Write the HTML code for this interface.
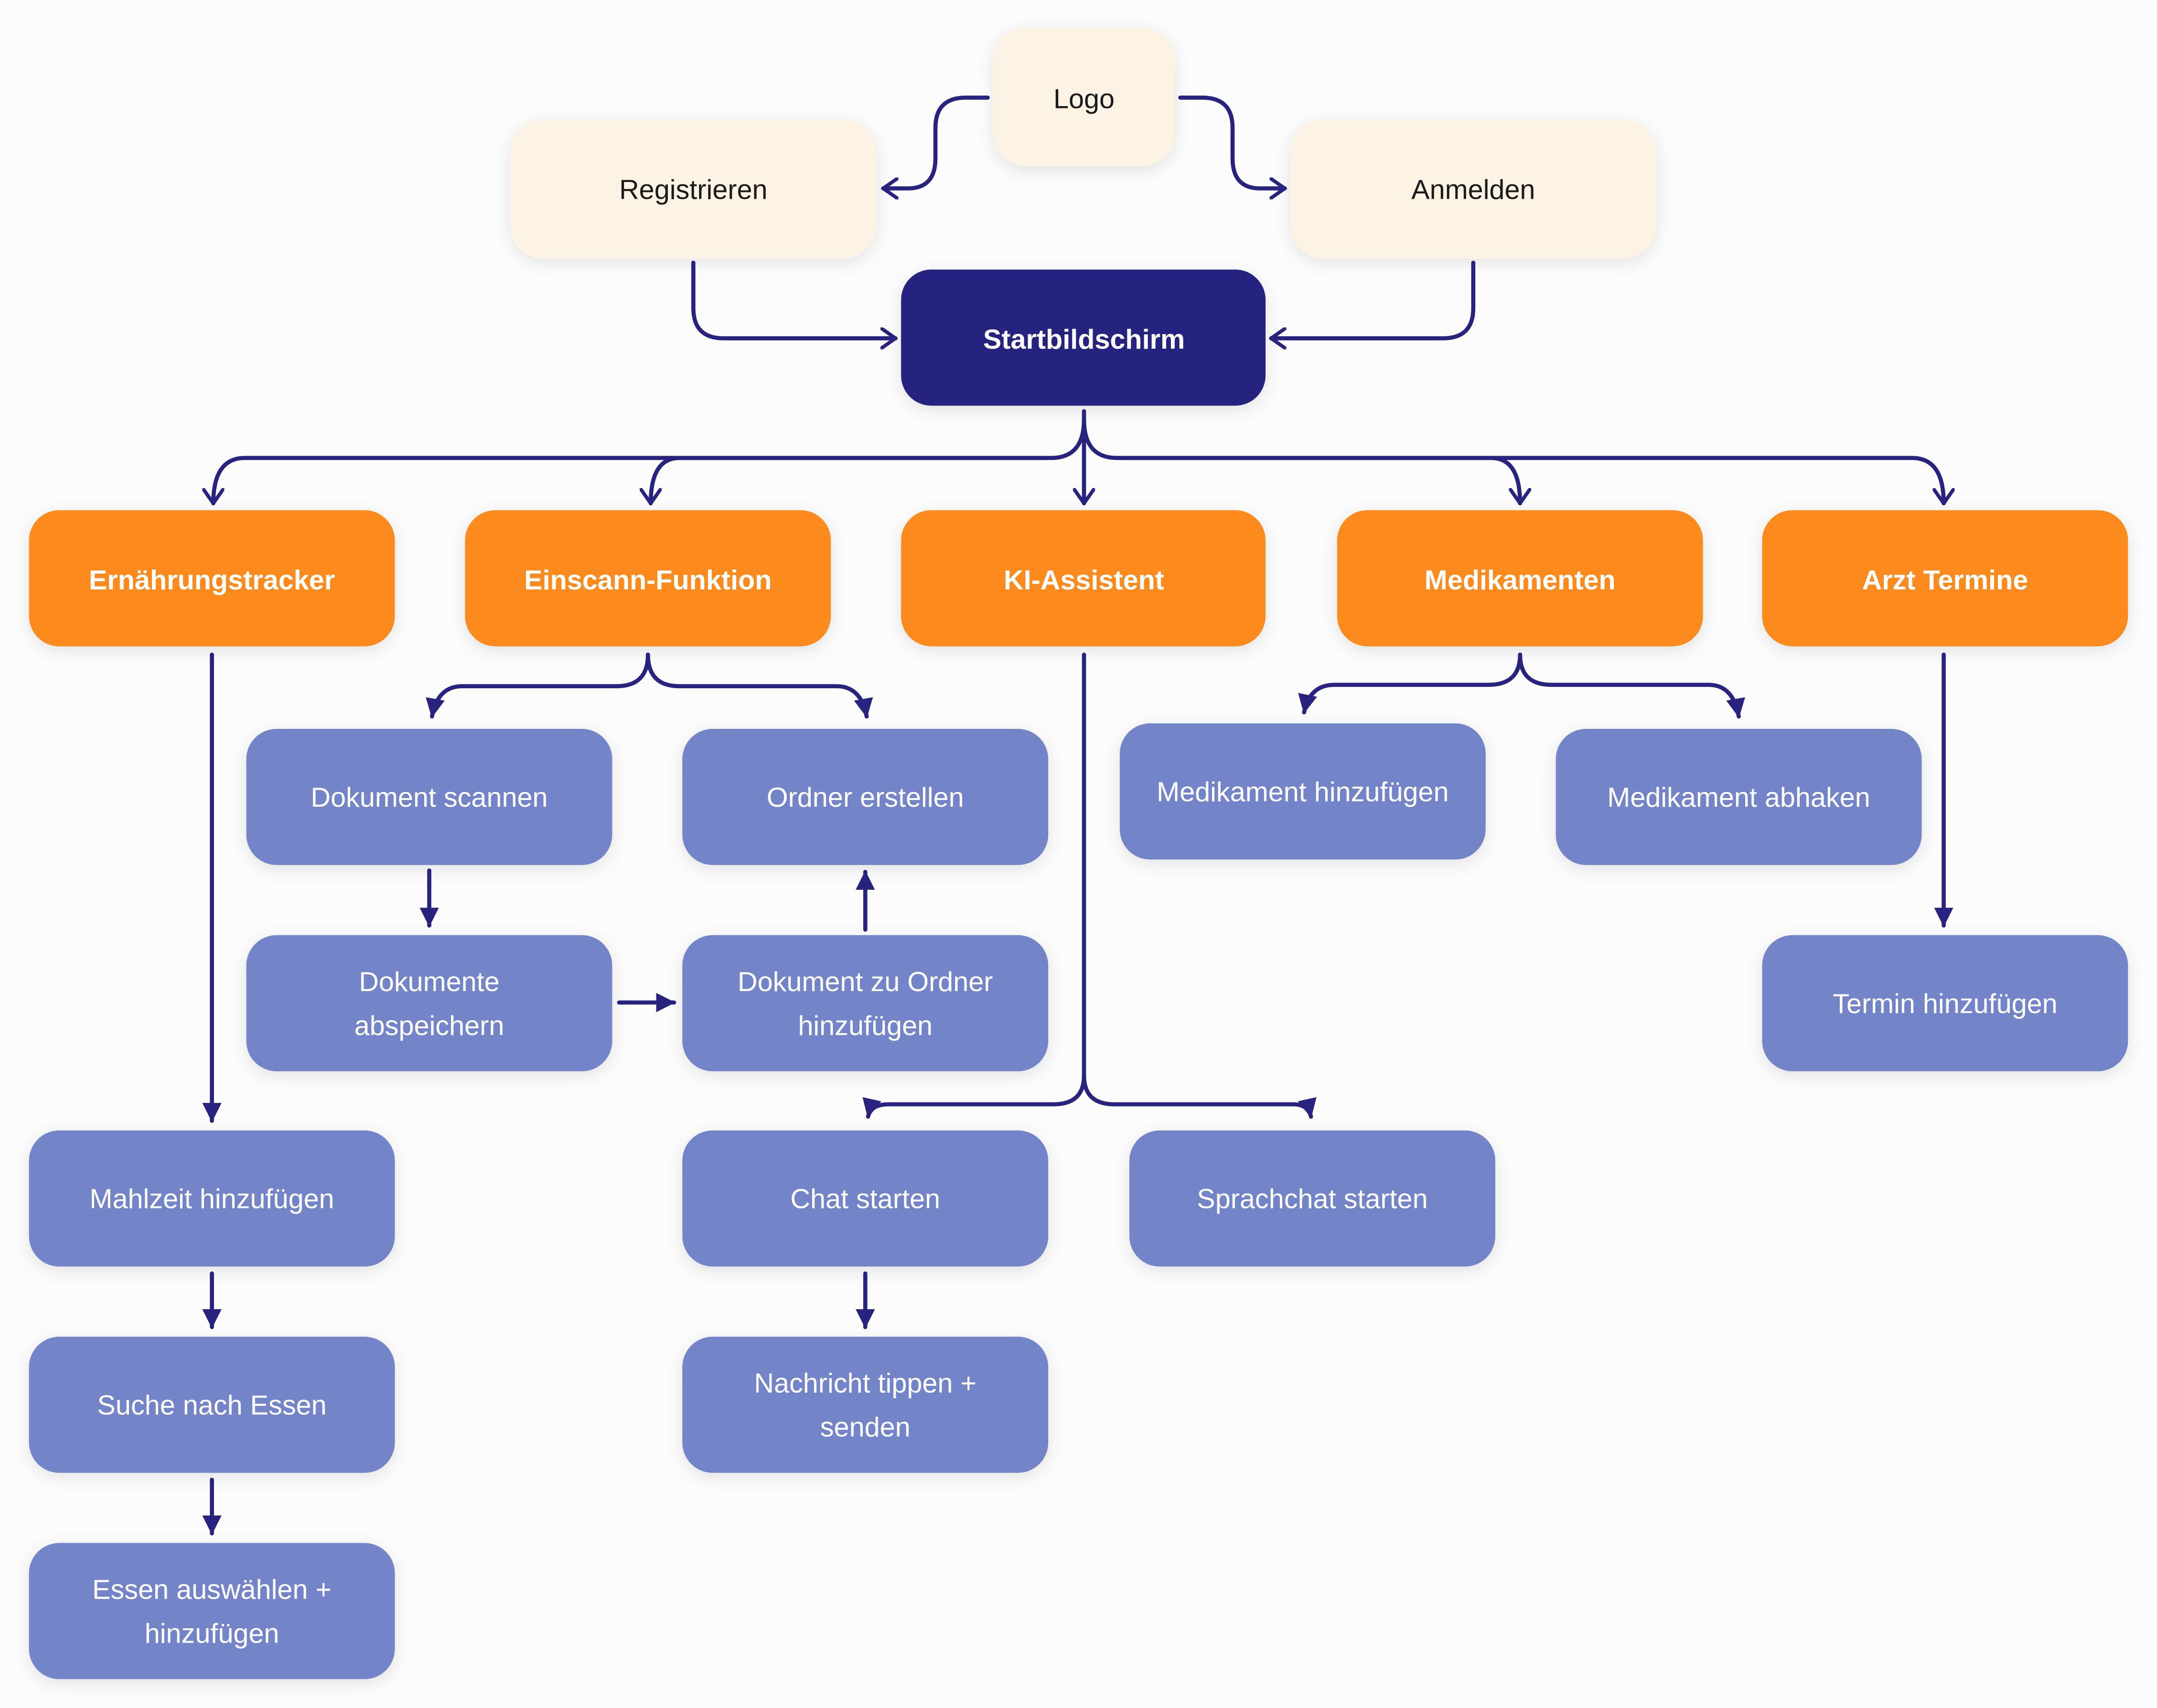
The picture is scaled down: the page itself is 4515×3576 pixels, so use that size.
<!DOCTYPE html>
<html><head><meta charset="utf-8"><style>
html,body{margin:0;padding:0;background:#fcfcfc;}
svg{display:block}
text{font-family:"Liberation Sans",sans-serif;font-size:20px;text-anchor:middle;dominant-baseline:central}
.c{fill:#fdf3e4}.n{fill:#28237f}.o{fill:#fd8a1b}.b{fill:#7385c8}
.tb{fill:#1a1a1a}.tw{fill:#fff}.bold{font-weight:bold}
.l{fill:none;stroke:#28237f;stroke-width:3;stroke-linecap:round;stroke-linejoin:round}
</style></head><body>
<svg width="4515" height="3576" viewBox="0 0 1568 1242" xmlns="http://www.w3.org/2000/svg">
<defs>
<filter id="s" x="-20%" y="-20%" width="140%" height="150%"><feDropShadow dx="0" dy="3" stdDeviation="6" flood-color="#000" flood-opacity="0.10"/></filter>
<marker id="ch" viewBox="0 0 12 16" refX="11" refY="8" markerWidth="12" markerHeight="16" markerUnits="userSpaceOnUse" orient="auto"><path d="M1,1 L11,8 L1,15" fill="none" stroke="#28237f" stroke-width="2.6" stroke-linecap="round" stroke-linejoin="round"/></marker>
<marker id="f" viewBox="0 0 14 14" refX="13" refY="7" markerWidth="14" markerHeight="14" markerUnits="userSpaceOnUse" orient="auto"><path d="M0,0 L14,7 L0,14 Z" fill="#28237f"/></marker>
</defs>
<rect width="1568" height="1242" fill="#fcfcfc"/>
<g filter="url(#s)">
<rect class="c" x="722" y="20" width="132" height="101" rx="24"/>
<rect class="c" x="371" y="87" width="266" height="101" rx="24"/>
<rect class="c" x="938" y="87" width="266" height="101" rx="24"/>
<rect class="n" x="655" y="196" width="265" height="99" rx="22"/>
<rect class="o" x="21" y="371" width="266" height="99" rx="22"/>
<rect class="o" x="338" y="371" width="266" height="99" rx="22"/>
<rect class="o" x="655" y="371" width="265" height="99" rx="22"/>
<rect class="o" x="972" y="371" width="266" height="99" rx="22"/>
<rect class="o" x="1281" y="371" width="266" height="99" rx="22"/>
<rect class="b" x="179" y="530" width="266" height="99" rx="22"/>
<rect class="b" x="496" y="530" width="266" height="99" rx="22"/>
<rect class="b" x="814" y="526" width="266" height="99" rx="22"/>
<rect class="b" x="1131" y="530" width="266" height="99" rx="22"/>
<rect class="b" x="179" y="680" width="266" height="99" rx="22"/>
<rect class="b" x="496" y="680" width="266" height="99" rx="22"/>
<rect class="b" x="1281" y="680" width="266" height="99" rx="22"/>
<rect class="b" x="21" y="822" width="266" height="99" rx="22"/>
<rect class="b" x="496" y="822" width="266" height="99" rx="22"/>
<rect class="b" x="821" y="822" width="266" height="99" rx="22"/>
<rect class="b" x="21" y="972" width="266" height="99" rx="22"/>
<rect class="b" x="496" y="972" width="266" height="99" rx="22"/>
<rect class="b" x="21" y="1122" width="266" height="99" rx="22"/>
</g>
<!-- connectors top -->
<path class="l" marker-end="url(#ch)" d="M718,71 H702 Q680,71 680,93 V115 Q680,137 660,137 H642"/>
<path class="l" marker-end="url(#ch)" d="M858,71 H874 Q896,71 896,93 V115 Q896,137 916,137 H934"/>
<path class="l" marker-end="url(#ch)" d="M504,191 V224 Q504,246 526,246 H651"/>
<path class="l" marker-end="url(#ch)" d="M1071,191 V224 Q1071,246 1049,246 H924"/>
<path class="l" marker-end="url(#ch)" d="M788,299 V366"/>
<path class="l" marker-end="url(#ch)" d="M788,305 Q788,333 764,333 H178 Q155,333 155,366"/>
<path class="l" d="M760,333 H494 Q473,333 473,366" marker-end="url(#ch)"/>
<path class="l" marker-end="url(#ch)" d="M788,305 Q788,333 812,333 H1390 Q1413,333 1413,366"/>
<path class="l" d="M816,333 H1084 Q1105,333 1105,366" marker-end="url(#ch)"/>
<!-- lower connectors -->
<path class="l" marker-end="url(#f)" d="M471,476 Q471,499 448,499 H336 Q318,499 314,521"/>
<path class="l" marker-end="url(#f)" d="M471,476 Q471,499 494,499 H608 Q626,499 630,521"/>
<path class="l" marker-end="url(#f)" d="M1105,476 Q1105,498 1082,498 H970 Q952,498 948,518"/>
<path class="l" marker-end="url(#f)" d="M1105,476 Q1105,498 1128,498 H1242 Q1260,498 1264,521"/>
<path class="l" marker-end="url(#f)" d="M788,476 V782 Q788,803 766,803 H646 Q633,803 631,812"/>
<path class="l" marker-end="url(#f)" d="M788,782 Q788,803 810,803 H940 Q951,803 953,812"/>
<path class="l" marker-end="url(#f)" d="M154,476 V815"/>
<path class="l" marker-end="url(#f)" d="M1413,476 V673"/>
<path class="l" marker-end="url(#f)" d="M312,633 V673"/>
<path class="l" marker-end="url(#f)" d="M629,676 V634"/>
<path class="l" marker-end="url(#f)" d="M450,729 H490"/>
<path class="l" marker-end="url(#f)" d="M154,926 V965"/>
<path class="l" marker-end="url(#f)" d="M154,1076 V1115"/>
<path class="l" marker-end="url(#f)" d="M629,926 V965"/>
<!-- labels -->
<text class="tb" x="788" y="72">Logo</text>
<text class="tb" x="504" y="138">Registrieren</text>
<text class="tb" x="1071" y="138">Anmelden</text>
<text class="tw bold" x="788" y="247">Startbildschirm</text>
<text class="tw bold" x="154" y="422">Ernährungstracker</text>
<text class="tw bold" x="471" y="422">Einscann-Funktion</text>
<text class="tw bold" x="788" y="422">KI-Assistent</text>
<text class="tw bold" x="1105" y="422">Medikamenten</text>
<text class="tw bold" x="1414" y="422">Arzt Termine</text>
<text class="tw" x="312" y="580">Dokument scannen</text>
<text class="tw" x="629" y="580">Ordner erstellen</text>
<text class="tw" x="947" y="576">Medikament hinzufügen</text>
<text class="tw" x="1264" y="580">Medikament abhaken</text>
<text class="tw" x="312" y="714">Dokumente</text>
<text class="tw" x="312" y="746">abspeichern</text>
<text class="tw" x="629" y="714">Dokument zu Ordner</text>
<text class="tw" x="629" y="746">hinzufügen</text>
<text class="tw" x="1414" y="730">Termin hinzufügen</text>
<text class="tw" x="154" y="872">Mahlzeit hinzufügen</text>
<text class="tw" x="629" y="872">Chat starten</text>
<text class="tw" x="954" y="872">Sprachchat starten</text>
<text class="tw" x="154" y="1022">Suche nach Essen</text>
<text class="tw" x="629" y="1006">Nachricht tippen +</text>
<text class="tw" x="629" y="1038">senden</text>
<text class="tw" x="154" y="1156">Essen auswählen +</text>
<text class="tw" x="154" y="1188">hinzufügen</text>
</svg>
</body></html>
